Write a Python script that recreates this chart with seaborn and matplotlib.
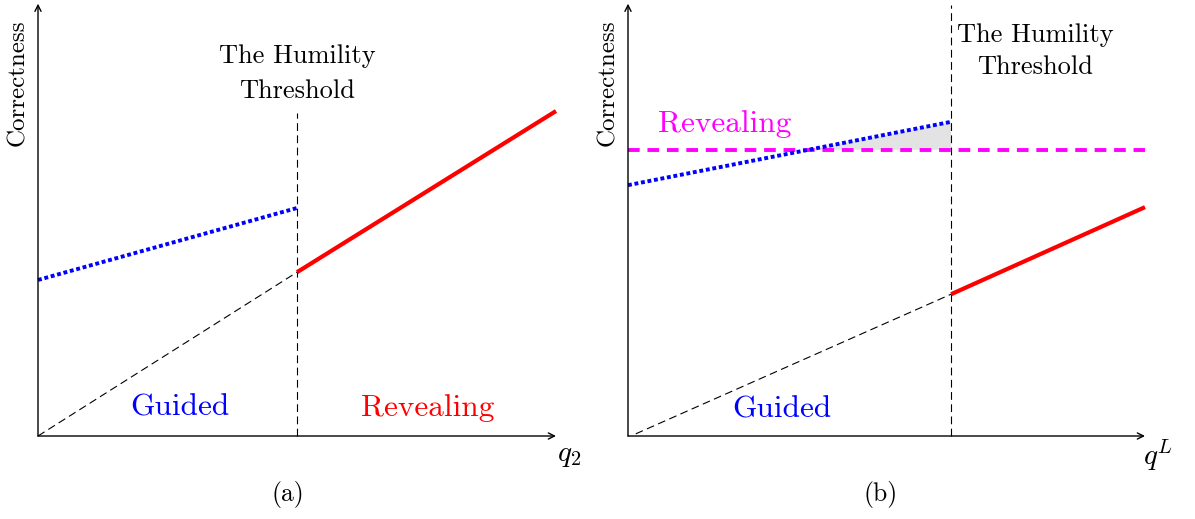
import numpy as np
import pandas as pd
import matplotlib.pyplot as plt
import seaborn as sns

sns.set_theme(style='white')
plt.rcParams['font.family'] = ['cmr10', 'DejaVu Serif']
plt.rcParams['mathtext.fontset'] = 'cm'
plt.rcParams['axes.formatter.use_mathtext'] = True
plt.rcParams['text.color'] = 'black'

# panel (a)
a_threshold = 0.5
a_guided_x = [0.0, 0.5]
a_guided_y = [0.362, 0.529]
a_reveal_x = [0.5, 1.0]
a_reveal_y = [0.38, 0.754]
a_base_x = [0.0, 0.5]
a_base_y = [0.0, 0.38]
a_thresh_top = 0.749

# panel (b)
b_threshold = 0.625
b_guided_x = [0.0, 0.625]
b_guided_y = [0.582, 0.729]
b_reveal_level = 0.664
b_red_x = [0.625, 1.0]
b_red_y = [0.329, 0.531]
b_base_x = [0.015, 0.625]
b_base_y = [0.005, 0.329]
b_thresh_top = 1.0

fig = plt.figure(figsize=(11.95, 5.19), dpi=100)
ax1 = fig.add_axes([38 / 1195, 83 / 519, 518 / 1195, 431 / 519])
ax2 = fig.add_axes([628 / 1195, 83 / 519, 517 / 1195, 431 / 519])


def setup(ax, xlabel, tag, tag_x):
    ax.set_xlim(0, 1)
    ax.set_ylim(0, 1)
    for s in ax.spines.values():
        s.set_visible(False)
    ax.set_xticks([])
    ax.set_yticks([])
    ax.set_facecolor('none')
    arrow = dict(arrowstyle='->', color='black', lw=1.0, mutation_scale=11,
                 shrinkA=0, shrinkB=0)
    ax.annotate('', xy=(1.0, 0), xytext=(0, 0), arrowprops=arrow, annotation_clip=False)
    ax.annotate('', xy=(0, 1.003), xytext=(0, 0), arrowprops=arrow, annotation_clip=False)
    ax.text(-0.039, 0.82, 'Correctness', rotation=90, ha='center', va='center',
            fontsize=18, color='black', transform=ax.transAxes)
    ax.text(1.025, -0.045, xlabel, ha='center', va='center', fontsize=21, color='black')
    ax.text(tag_x, -0.135, tag, ha='center', va='center', fontsize=18.5, color='black')


def line(ax, xs, ys, **kw):
    df = pd.DataFrame({'x': xs, 'y': ys})
    sns.lineplot(data=df, x='x', y='y', ax=ax, clip_on=False, estimator=None,
                 sort=False, **kw)


# ---- (a)
setup(ax1, '$q_2$', '(a)', 0.483)
line(ax1, [a_threshold, a_threshold], [0, a_thresh_top], color='black', lw=0.8,
     linestyle=(0, (7, 4)))
line(ax1, a_base_x, a_base_y, color='black', lw=0.8, linestyle=(0, (7, 4)))
line(ax1, a_guided_x, a_guided_y, color='blue', lw=2.8, linestyle=(0, (1.0, 0.7)))
line(ax1, a_reveal_x, a_reveal_y, color='red', lw=3.0, solid_capstyle='butt')
ax1.text(a_threshold, 0.881, 'The Humility', ha='center', va='center', fontsize=19, color='black')
ax1.text(a_threshold, 0.799, 'Threshold', ha='center', va='center', fontsize=19, color='black')
ax1.text(0.274, 0.065, 'Guided', color='blue', ha='center', va='center', fontsize=22.5)
ax1.text(0.753, 0.065, 'Revealing', color='red', ha='center', va='center', fontsize=22.5)

# ---- (b)
setup(ax2, '$q^L$', '(b)', 0.488)
x_cross = (b_reveal_level - b_guided_y[0]) / (b_guided_y[1] - b_guided_y[0]) * b_guided_x[1]
ax2.fill([x_cross, b_threshold, b_threshold],
         [b_reveal_level, b_guided_y[1], b_reveal_level],
         color='#e3e3e3', lw=0, zorder=1)
line(ax2, [b_threshold, b_threshold], [0, b_thresh_top], color='black', lw=0.8,
     linestyle=(0, (7, 4)))
line(ax2, b_base_x, b_base_y, color='black', lw=0.8, linestyle=(0, (7, 4)))
line(ax2, [0, 1], [b_reveal_level, b_reveal_level], color='magenta', lw=2.8,
     linestyle=(0, (3, 2)))
line(ax2, b_guided_x, b_guided_y, color='blue', lw=2.8, linestyle=(0, (1.0, 0.7)))
line(ax2, b_red_x, b_red_y, color='red', lw=3.0, solid_capstyle='butt')
ax2.text(0.788, 0.929, 'The Humility', ha='center', va='center', fontsize=19, color='black')
ax2.text(0.788, 0.857, 'Threshold', ha='center', va='center', fontsize=19, color='black')
ax2.text(0.187, 0.723, 'Revealing', color='magenta', ha='center', va='center', fontsize=22.5)
ax2.text(0.298, 0.061, 'Guided', color='blue', ha='center', va='center', fontsize=22.5)

fig.savefig('out.png', dpi=100)
